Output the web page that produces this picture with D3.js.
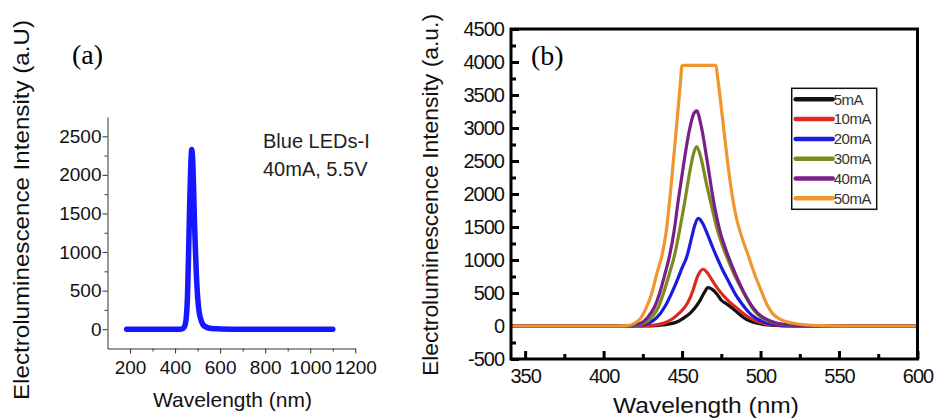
<!DOCTYPE html>
<html>
<head>
<meta charset="utf-8">
<script src="https://cdn.jsdelivr.net/npm/d3@7"></script>
<style>
  body { margin: 0; background: #fff; }
  svg { display: block; font-family: "Liberation Sans", Arial, sans-serif; }
</style>
</head>
<body>
<div id="chart"></div>
<script>
// ---- panel (a): blue LED spectrum at 40mA, [wavelength nm, intensity]
const blueLed40mA = [
  [185, 0], [250, 0], [300, 0], [350, 0], [400, 0], [420, 0], [435, 10], [445, 60],
  [450, 160], [455, 420], [460, 1000], [465, 1650], [470, 2150], [474, 2330],
  [478, 2200], [482, 1850], [486, 1400], [490, 1050], [494, 750], [500, 420],
  [507, 220], [515, 120], [530, 40], [560, 10], [650, 0], [800, 0], [1000, 0], [1100, 0]
]
const ticksAX = [200, 400, 600, 800, 1000, 1200]
const minorAX = [300, 500, 700, 900, 1100]
const ticksAY = [0, 500, 1000, 1500, 2000, 2500]
const minorAY = [250, 750, 1250, 1750, 2250]

// ---- panel (b): spectra at several drive currents
const curr5mA = [
  [341, 0], [425, 0], [435, 10], [442, 30], [447, 65], [451, 120], [455, 192], [458, 270],
  [461, 370], [464, 500], [466.5, 580], [469, 560], [472, 490], [475, 390], [478, 340],
  [481, 290], [484, 230], [487, 170], [491, 100], [495, 60], [500, 30], [510, 8], [520, 0], [600, 0]
]
const curr10mA = [
  [341, 0], [420, 0], [430, 8], [438, 40], [444, 110], [448, 190], [452, 295], [455, 420],
  [457, 545], [460, 760], [463.5, 860], [466, 810], [469, 700], [472, 590], [476, 470],
  [480, 370], [484, 290], [488, 210], [492, 140], [497, 80], [502, 40], [510, 14],
  [520, 3], [530, 0], [600, 0]
]
const curr20mA = [
  [341, 0], [415, 0], [422, 10], [429, 45], [434, 130], [439, 292], [443, 480], [447, 700],
  [450, 880], [453, 1050], [456, 1330], [458, 1520], [460.3, 1630], [463, 1560],
  [466, 1400], [469, 1220], [472, 1050], [476, 840], [480, 660], [484, 480], [488, 340],
  [492, 220], [497, 120], [503, 55], [510, 20], [520, 5], [530, 0], [600, 0]
]
const curr30mA = [
  [341, 0], [413, 0], [420, 10], [426, 45], [431, 140], [435, 292], [439, 560], [442, 800],
  [445, 1050], [448, 1400], [451.9, 1909], [455, 2350], [457.5, 2630], [459.3, 2720],
  [462, 2550], [466, 2100], [468, 1900], [472, 1500], [476, 1200], [480, 960], [484, 740],
  [488, 560], [492, 380], [496, 230], [500, 140], [505, 75], [512, 30], [520, 8], [530, 0], [600, 0]
]
const curr40mA = [
  [341, 0], [412, 0], [418, 10], [424, 45], [428, 130], [432.5, 292], [436, 520], [439, 780],
  [441.9, 1050], [445, 1450], [447.6, 1909], [451, 2450], [454.5, 2950], [457.5, 3220],
  [459.3, 3260], [462, 3050], [466, 2500], [470, 1900], [474, 1450], [478, 1150], [482, 900],
  [486, 680], [490, 480], [494, 320], [498, 200], [503, 110], [510, 45], [520, 12], [530, 0], [600, 0]
]
const curr50mA = [
  [341, 0], [410, 0], [415, 5], [420, 45], [424, 130], [427.5, 292], [431, 520], [434, 800],
  [437, 1050], [440, 1450], [442.3, 1950], [446, 2900], [449, 3700], [450, 3950], [471.6, 3950],
  [472.6, 3780], [476, 3100], [480, 2300], [484, 1700], [488, 1350], [492, 1080], [496, 800],
  [500, 560], [504, 330], [508, 180], [513, 95], [520, 45], [530, 15], [540, 5], [555, 0], [600, 0]
]
const labelsB = ['5mA', '10mA', '20mA', '30mA', '40mA', '50mA']
const colorsB = ['#111111', '#dd2a20', '#1a1ae0', '#7d8b1e', '#7a1f88', '#f0962e']
const ticksBX = [350, 400, 450, 500, 550, 600]
const minorBX = [375, 425, 475, 525, 575]
const ticksBY = [-500, 0, 500, 1000, 1500, 2000, 2500, 3000, 3500, 4000, 4500]
const minorBY = [-250, 250, 750, 1250, 1750, 2250, 2750, 3250, 3750, 4250]

const seriesB = [curr5mA, curr10mA, curr20mA, curr30mA, curr40mA, curr50mA].map((data, i) => ({
  label: labelsB[i],
  color: colorsB[i],
  data
}))

const plainNumber = (d) => String(d)

const svg = d3.select('#chart').append('svg').attr('width', 934).attr('height', 419)

// ================= panel (a) =================
const xA = d3.scaleLinear().domain([100, 1200]).range([107.5, 355.3])
const yA = d3.scaleLinear().domain([-250, 2750]).range([348.5, 117])

const axA = svg.append('g').attr('class', 'panel-a')

axA.append('g')
  .attr('transform', `translate(0, ${yA.range()[0]})`)
  .call(d3.axisBottom(xA).tickValues(ticksAX).tickFormat(plainNumber).tickSize(5).tickSizeOuter(0))
  .call((g) => g.selectAll('text').attr('y', 12).attr('font-size', 19).attr('fill', '#111'))
  .call((g) => g.selectAll('path, line').attr('stroke', '#333'))
  .attr('font-family', null)

axA.append('g')
  .attr('transform', `translate(0, ${yA.range()[0]})`)
  .call(d3.axisBottom(xA).tickValues(minorAX).tickSize(3).tickFormat(''))
  .call((g) => g.select('.domain').remove())
  .call((g) => g.selectAll('line').attr('stroke', '#333'))

axA.append('g')
  .attr('transform', `translate(${xA.range()[0]}, 0)`)
  .call(d3.axisLeft(yA).tickValues(ticksAY).tickFormat(plainNumber).tickSize(5).tickPadding(1).tickSizeOuter(0))
  .call((g) => g.selectAll('text').attr('font-size', 19).attr('fill', '#111'))
  .call((g) => g.selectAll('path, line').attr('stroke', '#333'))
  .attr('font-family', null)

axA.append('g')
  .attr('transform', `translate(${xA.range()[0]}, 0)`)
  .call(d3.axisLeft(yA).tickValues(minorAY).tickSize(3).tickFormat(''))
  .call((g) => g.select('.domain').remove())
  .call((g) => g.selectAll('line').attr('stroke', '#333'))

const lineA = d3.line()
  .x((d) => xA(d[0]))
  .y((d) => yA(d[1]))
  .curve(d3.curveMonotoneX)

axA.append('path')
  .datum(blueLed40mA)
  .attr('d', lineA)
  .attr('fill', 'none')
  .attr('stroke', '#1616ff')
  .attr('stroke-width', 5.5)
  .attr('stroke-linecap', 'round')
  .attr('stroke-linejoin', 'round')

axA.append('text')
  .attr('x', 72)
  .attr('y', 64)
  .attr('font-family', '"Liberation Serif", "Times New Roman", serif')
  .attr('font-size', 28)
  .text('(a)')

axA.append('text')
  .attr('x', 263)
  .attr('y', 148)
  .attr('font-size', 20)
  .attr('fill', '#222')
  .text('Blue LEDs-I')

axA.append('text')
  .attr('x', 263)
  .attr('y', 176)
  .attr('font-size', 20)
  .attr('fill', '#222')
  .text('40mA, 5.5V')

axA.append('text')
  .attr('x', 232.5)
  .attr('y', 407)
  .attr('text-anchor', 'middle')
  .attr('font-size', 21)
  .attr('textLength', 159)
  .attr('lengthAdjust', 'spacingAndGlyphs')
  .attr('fill', '#111')
  .text('Wavelength (nm)')

axA.append('text')
  .attr('transform', 'translate(29, 210) rotate(-90)')
  .attr('text-anchor', 'middle')
  .attr('font-size', 21.5)
  .attr('textLength', 380)
  .attr('lengthAdjust', 'spacingAndGlyphs')
  .attr('fill', '#111')
  .text('Electroluminescence Intensity (a.U)')

// ================= panel (b) =================
const xB = d3.scaleLinear().domain([341, 600]).range([511, 917.5])
const yB = d3.scaleLinear().domain([-500, 4500]).range([359, 29])

const axB = svg.append('g').attr('class', 'panel-b')

const styleTicksB = (g) => g
  .call((s) => s.select('.domain').remove())
  .call((s) => s.selectAll('line').attr('stroke', '#000').attr('stroke-width', 3))
  .call((s) => s.selectAll('text')
    .attr('font-size', 20)
    .attr('letter-spacing', -1)
    .attr('fill', '#111'))
  .attr('font-family', null)

axB.append('g')
  .attr('transform', `translate(0, ${yB.range()[0]})`)
  .call(d3.axisBottom(xB).tickValues(ticksBX).tickFormat(plainNumber).tickSize(-8).tickPadding(10))
  .call(styleTicksB)

axB.append('g')
  .attr('transform', `translate(0, ${yB.range()[0]})`)
  .call(d3.axisBottom(xB).tickValues(minorBX).tickSize(-5).tickFormat(''))
  .call(styleTicksB)

axB.append('g')
  .attr('transform', `translate(${xB.range()[0]}, 0)`)
  .call(d3.axisLeft(yB).tickValues(ticksBY).tickFormat(plainNumber).tickSize(-8).tickPadding(7))
  .call(styleTicksB)

axB.append('g')
  .attr('transform', `translate(${xB.range()[0]}, 0)`)
  .call(d3.axisLeft(yB).tickValues(minorBY).tickSize(-5).tickFormat(''))
  .call(styleTicksB)

const lineB = d3.line()
  .x((d) => xB(d[0]))
  .y((d) => yB(d[1]))
  .curve(d3.curveMonotoneX)

axB.append('g')
  .selectAll('path')
  .data(seriesB)
  .join('path')
  .attr('d', (d) => lineB(d.data))
  .attr('fill', 'none')
  .attr('stroke', (d) => d.color)
  .attr('stroke-width', 3.2)
  .attr('stroke-linejoin', 'round')

// frame
axB.append('rect')
  .attr('x', xB.range()[0])
  .attr('y', yB.range()[1])
  .attr('width', xB.range()[1] - xB.range()[0])
  .attr('height', yB.range()[0] - yB.range()[1])
  .attr('fill', 'none')
  .attr('stroke', '#000')
  .attr('stroke-width', 3)

axB.append('text')
  .attr('x', 531)
  .attr('y', 65)
  .attr('font-family', '"Liberation Serif", "Times New Roman", serif')
  .attr('font-size', 28)
  .text('(b)')

// legend
const legendB = axB.append('g').attr('transform', 'translate(791.7, 88.3)')
legendB.append('rect')
  .attr('width', 85)
  .attr('height', 121)
  .attr('fill', '#fff')
  .attr('stroke', '#111')
  .attr('stroke-width', 1.5)

const legendRow = legendB.selectAll('.row')
  .data(seriesB)
  .join('g')
  .attr('class', 'row')
  .attr('transform', (d, i) => `translate(0, ${11 + i * 19.8})`)

legendRow.append('line')
  .attr('x1', 4)
  .attr('x2', 41)
  .attr('stroke', (d) => d.color)
  .attr('stroke-width', 4.5)
  .attr('stroke-linecap', 'round')

legendRow.append('text')
  .attr('x', 42)
  .attr('dy', '0.35em')
  .attr('font-size', 15)
  .attr('letter-spacing', -0.5)
  .attr('fill', '#333')
  .text((d) => d.label)

axB.append('text')
  .attr('x', 706)
  .attr('y', 413)
  .attr('text-anchor', 'middle')
  .attr('font-size', 22)
  .attr('textLength', 186)
  .attr('lengthAdjust', 'spacingAndGlyphs')
  .attr('fill', '#111')
  .text('Wavelength (nm)')

axB.append('text')
  .attr('transform', 'translate(438, 195) rotate(-90)')
  .attr('text-anchor', 'middle')
  .attr('font-size', 22)
  .attr('textLength', 362)
  .attr('lengthAdjust', 'spacingAndGlyphs')
  .attr('fill', '#111')
  .text('Electroluminescence Intensity (a.u.)')
</script>
</body>
</html>
